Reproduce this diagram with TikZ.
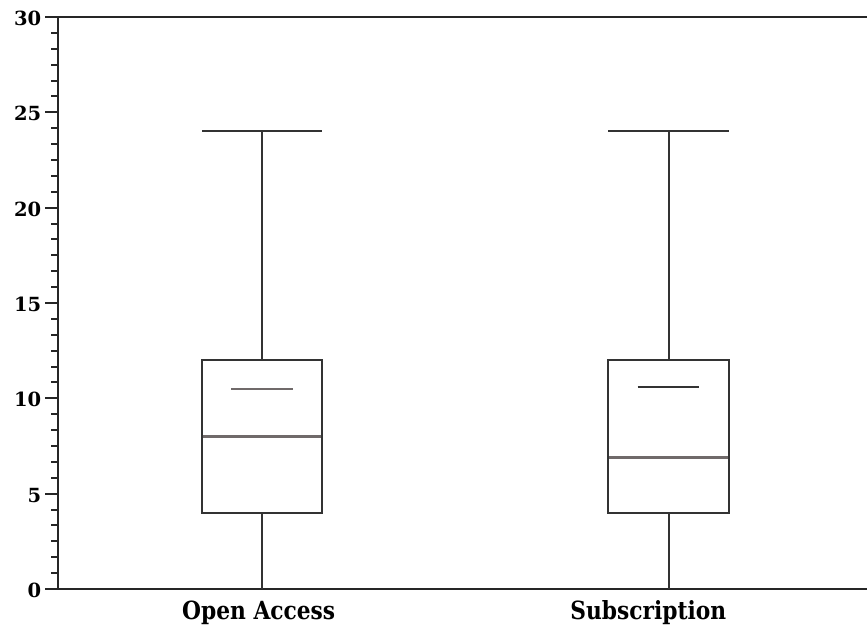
\documentclass[tikz,border=0pt]{standalone}
\usepackage{fontspec}
\setmainfont{DejaVu Serif}
\begin{document}
\begin{tikzpicture}[x=1pt,y=-1pt,
  axisline/.style={line width=2.2pt,draw=black!85},
  boxline/.style={line width=2pt,draw=black!80},
  grayline/.style={line width=2.2pt,draw={rgb,255:red,112;green,106;blue,106}},
  ticklab/.style={font=\bfseries\fontsize{19.5}{19.5}\selectfont,anchor=east,inner sep=0pt},
  catlab/.style={font=\bfseries\fontsize{25}{25}\selectfont,anchor=base,inner sep=0pt}]
\useasboundingbox (0,0) rectangle (867,624);
% scale: y(v)=589-19.07*v
\def\yv#1{589-19.0667*#1}
% axes
\coordinate (o) at (58,589);
\coordinate (top) at (58,17);
\coordinate (xr) at (867,589);
\coordinate (tl) at (45,17);
\coordinate (tr) at (867,17);
\draw[axisline] (xr) -- (o) -- (top);
\draw[axisline] (tl) -- (tr);
% major ticks and labels
\foreach \v in {0,5,...,30}{
  \draw[axisline] (45,{\yv{\v}}) -- (58,{\yv{\v}});
  \node[ticklab] (t\v) at (41.5,{\yv{\v}+1.5}) {\v};
}
% minor ticks every 5/6
\foreach \k in {1,...,35}{
  \pgfmathsetmacro{\vv}{\k*5/6}
  \draw[axisline,line width=2pt] (51,{\yv{\vv}}) -- (58,{\yv{\vv}});
}
% box 1: Open Access
\coordinate (a0) at (262,{\yv{0}});
\coordinate (a4) at (262,{\yv{4}});
\coordinate (a12) at (262,{\yv{12}});
\coordinate (a24) at (262,{\yv{24}});
\draw[boxline] (a0) -- (a4);
\draw[boxline] (a12) -- (a24);
\draw[boxline] (202,{\yv{24}}) -- (322,{\yv{24}});
\draw[boxline] (202,{\yv{4}}) rectangle (322,{\yv{12}});
\draw[grayline] (203,{\yv{8}}) -- (321,{\yv{8}});
\draw[grayline] (231,{\yv{10.5}}) -- (293,{\yv{10.5}});
% box 2: Subscription
\coordinate (b0) at (669,{\yv{0}});
\coordinate (b4) at (669,{\yv{4}});
\coordinate (b12) at (669,{\yv{12}});
\coordinate (b24) at (669,{\yv{24}});
\draw[boxline] (b0) -- (b4);
\draw[boxline] (b12) -- (b24);
\draw[boxline] (608,{\yv{24}}) -- (729,{\yv{24}});
\draw[boxline] (608,{\yv{4}}) rectangle (729,{\yv{12}});
\draw[grayline] (609,{\yv{6.9}}) -- (728,{\yv{6.9}});
\draw[boxline,line width=2.2pt] (637.5,{\yv{10.6}}) -- (698.5,{\yv{10.6}});
% category labels
\node[catlab] (la) at (258.7,619.5) {\scalebox{0.87}[1]{Open Access}};
\node[catlab] (lb) at (648.3,619.5) {\scalebox{0.87}[1]{Subscription}};
\end{tikzpicture}
\end{document}
